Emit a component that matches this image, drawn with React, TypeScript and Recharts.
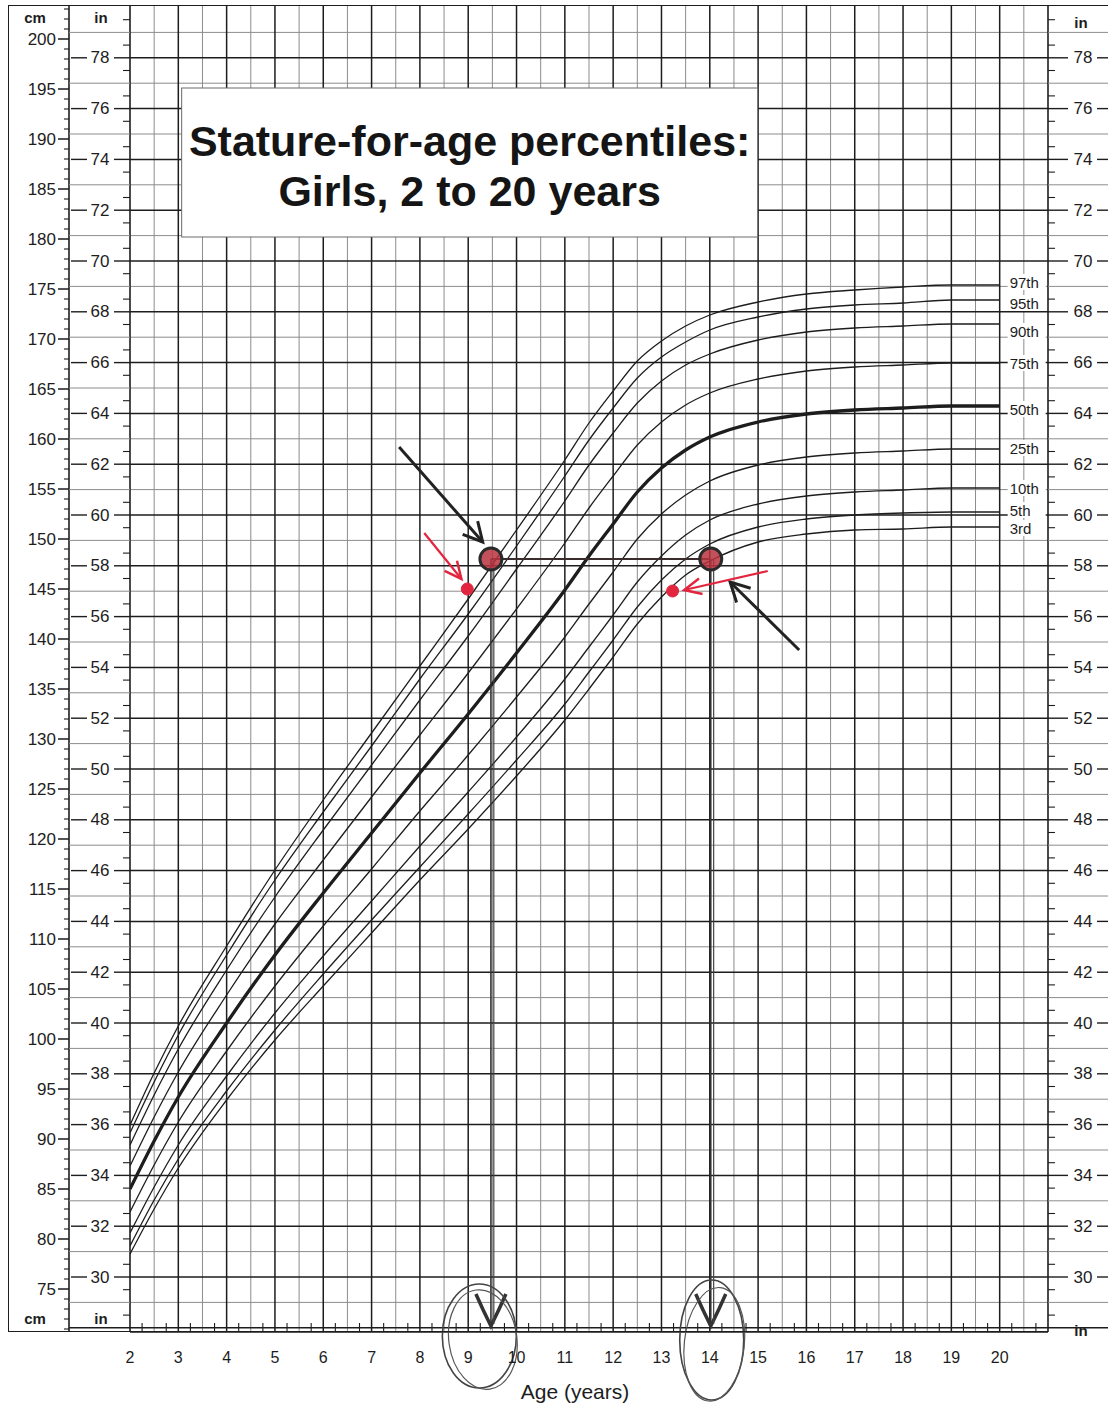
import React from 'react';
import { LineChart, Line, XAxis, YAxis, ReferenceLine, ReferenceDot } from 'recharts';

const ages = [2, 2.5, 3, 4, 5, 6, 7, 8, 9, 10, 11, 11.5, 12, 12.5, 13, 13.5, 14, 15, 16, 17, 18, 19, 20];

// stature in cm per percentile
const p97 = [91.4, 96.6, 101.3, 109.3, 116.9, 123.9, 130.6, 137.3, 144.0, 150.9, 157.9, 161.6, 164.8, 167.8, 169.8, 171.3, 172.4, 173.7, 174.5, 174.9, 175.2, 175.4, 175.4];
const p95 = [90.6, 95.7, 100.4, 108.4, 115.9, 122.7, 129.3, 136.0, 142.5, 149.3, 156.3, 159.9, 163.1, 166.1, 168.2, 169.7, 170.9, 172.2, 173.0, 173.4, 173.6, 173.9, 173.9];
const p90 = [89.4, 94.4, 99.0, 106.9, 114.2, 120.9, 127.4, 133.9, 140.3, 147.0, 153.8, 157.4, 160.6, 163.6, 165.8, 167.4, 168.5, 169.9, 170.7, 171.1, 171.3, 171.5, 171.5];
const p75 = [87.3, 92.2, 96.7, 104.4, 111.5, 117.9, 124.2, 130.4, 136.6, 143.0, 149.6, 153.1, 156.3, 159.4, 161.7, 163.4, 164.6, 166.0, 166.8, 167.2, 167.4, 167.6, 167.6];
const p50 = [85.0, 89.8, 94.2, 101.6, 108.4, 114.6, 120.6, 126.6, 132.5, 138.6, 144.9, 148.3, 151.5, 154.7, 157.1, 158.9, 160.2, 161.7, 162.5, 162.9, 163.1, 163.3, 163.3];
const p25 = [82.7, 87.4, 91.7, 98.8, 105.3, 111.3, 117.0, 122.8, 128.4, 134.2, 140.2, 143.5, 146.7, 150.0, 152.5, 154.4, 155.8, 157.4, 158.2, 158.6, 158.8, 159.0, 159.0];
const p10 = [80.6, 85.2, 89.4, 96.3, 102.6, 108.3, 113.8, 119.3, 124.7, 130.2, 136.0, 139.2, 142.4, 145.7, 148.3, 150.4, 151.9, 153.5, 154.3, 154.7, 154.9, 155.1, 155.1];
const p5 = [79.3, 83.9, 88.0, 94.8, 100.9, 106.5, 111.9, 117.2, 122.5, 127.9, 133.5, 136.7, 139.9, 143.2, 145.9, 148.0, 149.5, 151.2, 152.0, 152.4, 152.6, 152.7, 152.7];
const p3 = [78.5, 83.0, 87.1, 93.9, 99.9, 105.3, 110.6, 115.9, 121.0, 126.3, 131.9, 135.0, 138.2, 141.5, 144.2, 146.4, 147.8, 149.7, 150.5, 150.9, 151.0, 151.2, 151.2];

const percentileNames = ['97th', '95th', '90th', '75th', '50th', '25th', '10th', '5th', '3rd'];
const percentileValues = [p97, p95, p90, p75, p50, p25, p10, p5, p3];

// tick labels
const ageLabels = [2, 3, 4, 5, 6, 7, 8, 9, 10, 11, 12, 13, 14, 15, 16, 17, 18, 19, 20];
const cmLabels = [75, 80, 85, 90, 95, 100, 105, 110, 115, 120, 125, 130, 135, 140, 145, 150, 155, 160, 165, 170, 175, 180, 185, 190, 195, 200];
const inchLabels = [30, 32, 34, 36, 38, 40, 42, 44, 46, 48, 50, 52, 54, 56, 58, 60, 62, 64, 66, 68, 70, 72, 74, 76, 78];

const titleLines = ['Stature-for-age percentiles:', 'Girls, 2 to 20 years'];
// title panel centre, in chart units (age, cm)
const titleCenter = [9.03, 187.65];

// hand-drawn marks on the chart (age in years, stature in cm)
const plottedAges = [9.47, 14.02];
const plottedCm = [148, 148];
const redDotAges = [8.98, 13.23];
const redDotCm = [145.0, 144.8];
const blackArrowFrom = [[7.57, 159.2], [15.85, 138.9]];
const blackArrowTo = [[9.3, 149.7], [14.42, 145.7]];
const redArrowFrom = [[8.09, 150.6], [15.2, 146.8]];
const redArrowTo = [[8.86, 146.0], [13.47, 144.9]];
const ovalAges = [9.23, 14.04];
const ovalCm = [70.3, 69.9];

const rows = ages.map((age, i) => {
  const row: Record<string, number> = { age };
  percentileNames.forEach((n, k) => { row[n] = percentileValues[k][i]; });
  return row;
});

const range = (a: number, b: number, s: number) => {
  const out: number[] = [];
  for (let v = a; v <= b + 1e-9; v += s) out.push(Math.round(v * 100) / 100);
  return out;
};

const Y_MIN = 70.7;
const Y_MAX = 203.3;
const IN = 2.54;

const cmTicks = range(71, 203, 1);
const inchTicks = range(28, 79.5, 0.5).map((i) => i * IN);
const xTicks = [...ageLabels, ...range(2.25, 20.75, 0.5)].sort((a, b) => a - b);
const yearLines = range(3, 20, 1);
const halfYearLines = range(2.5, 20.5, 1);
const inchLines = range(28, 79, 1);

const FONT = '"Liberation Sans", Arial, Helvetica, sans-serif';
const INK = '#1d1d1d';
const LIGHT = '#8c8c8c';
const RED = '#e3263f';

const labelNudge: Record<string, number> = {
  '97th': -3, '95th': 3, '90th': 7, '75th': 0, '50th': 3, '25th': -1, '10th': 0, '5th': -2, '3rd': 1,
};

const inchOf = (cm: number) => Math.round((cm / IN) * 2) / 2;

const LeftInchTick = (props: any) => {
  const { x, y, payload } = props;
  const inch = inchOf(payload.value);
  if (inch % 1 !== 0) return <line x1={x - 7} x2={x} y1={y} y2={y} stroke={INK} strokeWidth={1.1} />;
  if (!inchLabels.includes(inch)) {
    return inch % 2 === 0
      ? <line x1={x - 61} x2={x} y1={y} y2={y} stroke={INK} strokeWidth={1.4} />
      : <line x1={x - 61} x2={x} y1={y} y2={y} stroke={LIGHT} strokeWidth={1} />;
  }
  return (
    <g>
      <line x1={x - 59} x2={x - 43} y1={y} y2={y} stroke={INK} strokeWidth={1.4} />
      <text x={x - 30} y={y} textAnchor="middle" dominantBaseline="central" fontSize={17} fontFamily={FONT} fill={INK}>{inch}</text>
      <line x1={x - 16} x2={x} y1={y} y2={y} stroke={INK} strokeWidth={1.4} />
    </g>
  );
};

const RightInchTick = (props: any) => {
  const { x, y, payload } = props;
  const inch = inchOf(payload.value);
  if (inch % 1 !== 0) return <line x1={x} x2={x + 7} y1={y} y2={y} stroke={INK} strokeWidth={1.1} />;
  if (!inchLabels.includes(inch)) {
    return inch % 2 === 0
      ? <line x1={x} x2={x + 60} y1={y} y2={y} stroke={INK} strokeWidth={1.4} />
      : <line x1={x} x2={x + 60} y1={y} y2={y} stroke={LIGHT} strokeWidth={1} />;
  }
  return (
    <g>
      <line x1={x} x2={x + 20} y1={y} y2={y} stroke={INK} strokeWidth={1.4} />
      <text x={x + 35} y={y} textAnchor="middle" dominantBaseline="central" fontSize={17} fontFamily={FONT} fill={INK}>{inch}</text>
      <line x1={x + 49} x2={x + 60} y1={y} y2={y} stroke={INK} strokeWidth={1.4} />
    </g>
  );
};

const CmTick = (props: any) => {
  const { x, y, payload } = props;
  const v = Math.round(payload.value);
  if (!cmLabels.includes(v)) return <line x1={x - 5} x2={x} y1={y} y2={y} stroke={INK} strokeWidth={1.1} />;
  return (
    <g>
      <line x1={x - 11} x2={x} y1={y} y2={y} stroke={INK} strokeWidth={1.5} />
      <text x={x - 13} y={y} textAnchor="end" dominantBaseline="central" fontSize={17} fontFamily={FONT} fill={INK}>{v}</text>
    </g>
  );
};

const AgeTick = (props: any) => {
  const { x, y, payload } = props;
  const v = payload.value;
  if (ageLabels.includes(v)) {
    return <text x={x} y={y + 31} textAnchor="middle" fontSize={16} fontFamily={FONT} fill={INK}>{v}</text>;
  }
  return <line x1={x} x2={x} y1={y - 9} y2={y} stroke={INK} strokeWidth={1.1} />;
};

const unitLabel = (text: string, dx: number, topDy: number, bottomDy: number) => (lp: any) => {
  const vb = lp.viewBox || {};
  return (
    <g>
      <text x={vb.x + dx} y={vb.y + topDy} textAnchor="middle" fontSize={15} fontWeight="bold" fontFamily={FONT} fill={INK}>{text}</text>
      <text x={vb.x + dx} y={vb.y + vb.height + bottomDy} textAnchor="middle" fontSize={15} fontWeight="bold" fontFamily={FONT} fill={INK}>{text}</text>
    </g>
  );
};

// white panel with the two-line title, drawn above the grid
const TitlePanel = (sp: any) => {
  const w = 576;
  const h = 149;
  const left = sp.cx - w / 2;
  const top = sp.cy - h / 2;
  return (
    <g>
      <rect x={left} y={top} width={w} height={h} fill="#fff" stroke="#6a6a6a" strokeWidth={1} />
      <text x={sp.cx} y={top + 68} textAnchor="middle" fontSize={43} fontWeight="bold" fontFamily={FONT} fill="#151515">{titleLines[0]}</text>
      <text x={sp.cx} y={top + 118} textAnchor="middle" fontSize={43} fontWeight="bold" fontFamily={FONT} fill="#151515">{titleLines[1]}</text>
    </g>
  );
};

const App: React.FC = () => {
  const last = ages.length - 1;
  return (
    <div style={{ position: 'relative', width: 1108, height: 1407, background: '#fff' }}>
      <style>{'body{margin:0;background:#fff}'}</style>
      <svg width={0} height={0} style={{ position: 'absolute' }}>
        <defs>
          <marker id="headBlack" markerWidth={26} markerHeight={26} refX={22} refY={13} orient="auto" markerUnits="userSpaceOnUse">
            <path d="M3,3 L22,13 L3,23" fill="none" stroke="#222" strokeWidth={3} />
          </marker>
          <marker id="headRed" markerWidth={24} markerHeight={24} refX={20} refY={12} orient="auto" markerUnits="userSpaceOnUse">
            <path d="M3,4 L20,12 L3,20" fill="none" stroke={RED} strokeWidth={2.5} />
          </marker>
          <marker id="headDown" markerWidth={40} markerHeight={40} refX={36} refY={20} orient="auto" markerUnits="userSpaceOnUse">
            <path d="M4,5 Q20,12 36,20 Q20,28 4,35" fill="none" stroke="#333" strokeWidth={3.5} />
          </marker>
        </defs>
      </svg>
      <LineChart width={1108} height={1407} data={rows} margin={{ top: 6, right: 0, bottom: 0, left: 8 }}>
        <XAxis
          dataKey="age" type="number" domain={[2, 21]} allowDataOverflow ticks={xTicks} interval={0}
          tickSize={0} tickMargin={0} tickLine={false} tick={AgeTick} height={75}
          axisLine={{ stroke: INK, strokeWidth: 1.6 }}
          label={{ value: 'Age (years)', position: 'insideBottom', offset: 8, dx: -14, fontSize: 21, fontFamily: FONT, fill: INK }}
        />
        <YAxis
          yAxisId="a_in" orientation="left" type="number" domain={[Y_MIN, Y_MAX]} allowDataOverflow
          ticks={inchTicks} interval={0} tickSize={0} tickMargin={0} tickLine={false} width={61}
          tick={LeftInchTick} axisLine={{ stroke: INK, strokeWidth: 1.6 }}
          label={{ content: unitLabel('in', 32, 17, -8) }}
        />
        <YAxis
          yAxisId="b_cm" orientation="left" type="number" domain={[Y_MIN, Y_MAX]} allowDataOverflow
          ticks={cmTicks} interval={0} tickSize={0} tickMargin={0} tickLine={false} width={61}
          tick={CmTick} axisLine={{ stroke: INK, strokeWidth: 1.6 }}
          label={{ content: unitLabel('cm', 27, 17, -8) }}
        />
        <YAxis
          yAxisId="c_inR" orientation="right" type="number" domain={[Y_MIN, Y_MAX]} allowDataOverflow
          ticks={inchTicks} interval={0} tickSize={0} tickMargin={0} tickLine={false} width={60}
          tick={RightInchTick} axisLine={{ stroke: INK, strokeWidth: 1.6 }}
          label={{ content: unitLabel('in', 33, 22, 4) }}
        />

        {halfYearLines.map((a) => (
          <ReferenceLine key={`h${a}`} yAxisId="a_in" x={a} stroke={LIGHT} strokeWidth={1} />
        ))}
        {inchLines.map((i) => (
          <ReferenceLine key={`i${i}`} yAxisId="a_in" y={i * IN}
            stroke={i % 2 === 0 ? INK : LIGHT} strokeWidth={i % 2 === 0 ? 1.5 : 1} />
        ))}
        {yearLines.map((a) => (
          <ReferenceLine key={`y${a}`} yAxisId="a_in" x={a} stroke={INK} strokeWidth={1.5} />
        ))}

        <ReferenceDot yAxisId="a_in" x={titleCenter[0]} y={titleCenter[1]} r={1} ifOverflow="visible" shape={TitlePanel} />

        {percentileNames.map((name) => (
          <Line
            key={name} yAxisId="a_in" dataKey={name} type="monotone" stroke={INK}
            strokeWidth={name === '50th' ? 3.3 : 1.3} dot={false} activeDot={false}
            isAnimationActive={false}
            label={(lp: any) => lp.index === last ? (
              <g key={`${name}-lbl`}>
                <rect x={lp.x + 8} y={lp.y + labelNudge[name] - 8} width={38} height={16} fill="#fff" />
                <text x={lp.x + 10} y={lp.y + labelNudge[name]} dominantBaseline="central" fontSize={15}
                  fontFamily={FONT} fill={INK}>{name}</text>
              </g>
            ) : <g key={`${name}-${lp.index}`} />}
          />
        ))}

        {/* hand-drawn annotations */}
        <ReferenceLine yAxisId="a_in" ifOverflow="visible" stroke="#3a2c2c" strokeWidth={2}
          segment={[{ x: plottedAges[0], y: plottedCm[0] }, { x: plottedAges[1], y: plottedCm[1] }]} />
        {plottedAges.map((a, i) => (
          <ReferenceLine key={`v${i}`} yAxisId="a_in" ifOverflow="visible" stroke="#333" strokeWidth={1.6}
            markerEnd="url(#headDown)"
            segment={[{ x: a, y: plottedCm[i] }, { x: a, y: 71.3 }]} />
        ))}
        {plottedAges.map((a, i) => (
          <ReferenceLine key={`v2${i}`} yAxisId="a_in" ifOverflow="visible" stroke="#444" strokeWidth={1.2}
            segment={[{ x: a + 0.06, y: plottedCm[i] }, { x: a + 0.06, y: 71.5 }]} />
        ))}
        {blackArrowFrom.map((f, i) => (
          <ReferenceLine key={`ba${i}`} yAxisId="a_in" ifOverflow="visible" stroke="#222" strokeWidth={3}
            markerEnd="url(#headBlack)"
            segment={[{ x: f[0], y: f[1] }, { x: blackArrowTo[i][0], y: blackArrowTo[i][1] }]} />
        ))}
        {redArrowFrom.map((f, i) => (
          <ReferenceLine key={`ra${i}`} yAxisId="a_in" ifOverflow="visible" stroke={RED} strokeWidth={2.2}
            markerEnd="url(#headRed)"
            segment={[{ x: f[0], y: f[1] }, { x: redArrowTo[i][0], y: redArrowTo[i][1] }]} />
        ))}
        {plottedAges.map((a, i) => (
          <ReferenceDot key={`c${i}`} yAxisId="a_in" x={a} y={plottedCm[i]} r={11} ifOverflow="visible"
            fill="#b8323f" fillOpacity={0.85} stroke="#2a2a2a" strokeWidth={3} />
        ))}
        {redDotAges.map((a, i) => (
          <ReferenceDot key={`r${i}`} yAxisId="a_in" x={a} y={redDotCm[i]} r={6} ifOverflow="visible"
            fill={RED} stroke={RED} strokeWidth={1} />
        ))}
        {ovalAges.map((a, i) => (
          <ReferenceDot key={`o${i}`} yAxisId="a_in" x={a} y={ovalCm[i]} r={40} ifOverflow="visible"
            shape={(sp: any) => (
              <g>
                <ellipse cx={sp.cx} cy={sp.cy} rx={i === 0 ? 37 : 32} ry={i === 0 ? 52 : 60}
                  fill="none" stroke="#444" strokeWidth={1.6} />
                <ellipse cx={sp.cx + 3} cy={sp.cy + 4} rx={i === 0 ? 34 : 30} ry={i === 0 ? 50 : 57}
                  fill="none" stroke="#555" strokeWidth={1.2} transform={`rotate(${i === 0 ? -8 : 6} ${sp.cx} ${sp.cy})`} />
              </g>
            )} />
        ))}
      </LineChart>
      <div style={{
        position: 'absolute', left: 8, top: 5, width: 1040, height: 1327, boxSizing: 'border-box',
        borderLeft: `1.6px solid ${INK}`, borderTop: `1.6px solid ${INK}`, borderBottom: `1.6px solid ${INK}`,
        pointerEvents: 'none',
      }} />
      <div style={{
        position: 'absolute', left: 1048, top: 5, width: 60, height: 2, borderTop: `1.6px solid ${INK}`,
        pointerEvents: 'none',
      }} />
    </div>
  );
};

export default App;
